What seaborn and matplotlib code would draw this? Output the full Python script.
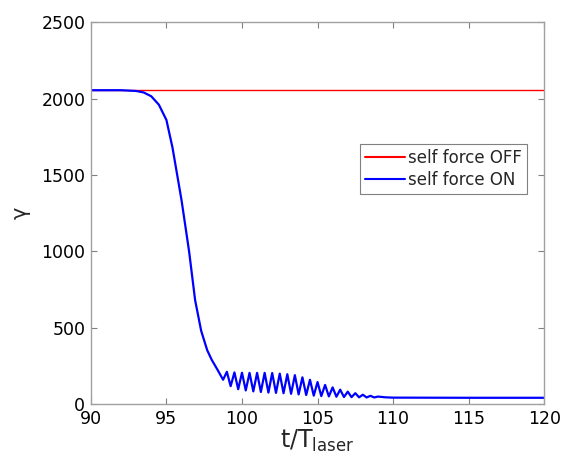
import numpy as np
import pandas as pd
import matplotlib
matplotlib.use("Agg")
import matplotlib.pyplot as plt
import seaborn as sns

# self force OFF: gamma stays constant
t_off = [90.0, 120.0]
gamma_off = [2055.0, 2055.0]

# self force ON (descent, then damped oscillation)
t_on = [90.0, 92.0, 93.0, 93.5, 94.0, 94.5, 95.0, 95.4, 96.0, 96.5, 96.9, 97.3, 97.7, 98.0, 98.4,
        98.75, 99.0, 99.25, 99.5, 99.75, 100.0, 100.25, 100.5, 100.75, 101.0, 101.25, 101.5,
        101.75, 102.0, 102.25, 102.5, 102.75, 103.0, 103.25, 103.5, 103.75, 104.0, 104.25,
        104.5, 104.75, 105.0, 105.25, 105.5, 105.75, 106.0, 106.25, 106.5, 106.75, 107.0,
        107.25, 107.5, 107.75, 108.0, 108.25, 108.5, 108.75, 109.0, 109.5, 110.0, 115.0, 120.0]
gamma_on = [2055, 2055, 2050, 2040, 2015, 1960, 1860, 1680, 1335, 1000, 680, 480, 353, 290, 222,
            160, 212, 118, 208, 98, 206, 90, 205, 84, 205, 80, 205,
            76, 204, 74, 200, 72, 196, 68, 190, 64, 176, 60,
            160, 56, 145, 53, 126, 51, 110, 49, 95, 47, 82,
            46, 72, 45, 62, 44, 55, 44, 50, 45, 43, 42, 42]

df = pd.concat([
    pd.DataFrame({"t": t_off, "gamma": gamma_off, "case": "self force OFF"}),
    pd.DataFrame({"t": t_on, "gamma": gamma_on, "case": "self force ON"}),
], ignore_index=True)

sns.set_style("ticks")
plt.rcParams['font.family'] = ['DejaVu Sans']
plt.rcParams['mathtext.default'] = 'regular'

fig = plt.figure(figsize=(5.61, 4.63), dpi=100)
ax = fig.add_axes([0.162, 0.127, 0.808, 0.825])

sns.lineplot(data=df, x="t", y="gamma", hue="case", sort=False, estimator=None,
             palette={"self force OFF": "#ff0000", "self force ON": "#0000ff"},
             ax=ax)
for ln, lw in zip(ax.lines, [1.0, 1.6]):
    ln.set_linewidth(lw)

ax.set_xlim(90, 120)
ax.set_ylim(0, 2500)
ax.set_xticks(np.arange(90, 121, 5))
ax.set_yticks(np.arange(0, 2501, 500))
ax.tick_params(direction='in', top=True, right=True, length=4, width=0.8,
               color='#808080', labelsize=12.5, labelcolor='black', pad=4)
for sp in ax.spines.values():
    sp.set_visible(True)
    sp.set_color('#a0a0a0')
    sp.set_linewidth(1.0)

ax.set_xlabel(r'$t/T_{laser}$', fontsize=17, labelpad=0)
ax.set_ylabel(r'$\gamma$', fontsize=15, labelpad=6)

leg = ax.legend(loc='upper right', bbox_to_anchor=(0.962, 0.681), borderaxespad=0,
                fontsize=12, frameon=True, fancybox=False, handlelength=2.4,
                handletextpad=0.2, borderpad=0.3, labelspacing=0.25)
leg.get_frame().set_edgecolor('#606060')
leg.get_frame().set_linewidth(0.8)

fig.savefig("out.png", dpi=100)
